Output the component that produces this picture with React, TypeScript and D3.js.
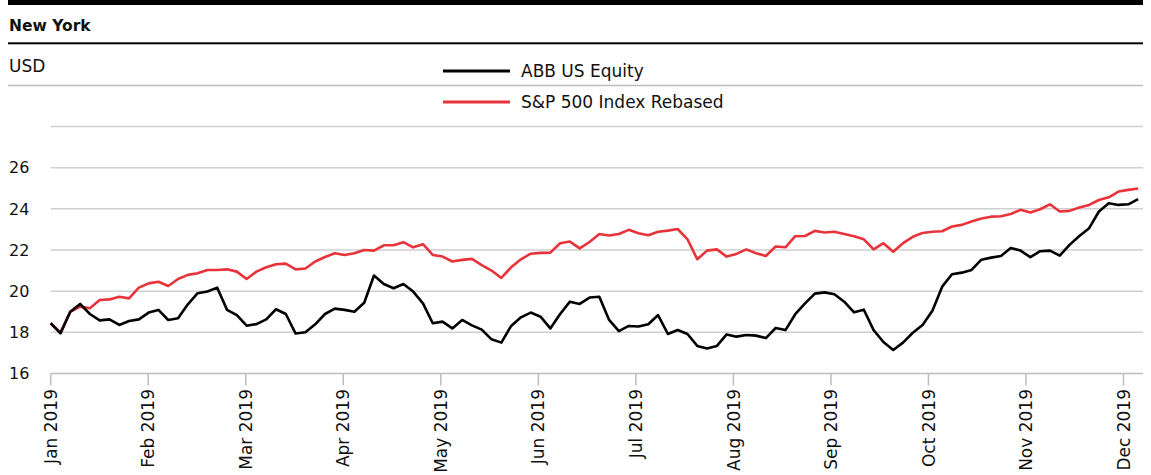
import * as d3 from 'd3';

// month tick labels (x axis)
const months = ['Jan 2019', 'Feb 2019', 'Mar 2019', 'Apr 2019', 'May 2019', 'Jun 2019',
  'Jul 2019', 'Aug 2019', 'Sep 2019', 'Oct 2019', 'Nov 2019', 'Dec 2019'];

// y axis ticks (28 has a gridline but no label)
const yTicks = [16, 18, 20, 22, 24, 26, 28];
const yLabels = [16, 18, 20, 22, 24, 26];

// ABB US Equity, sampled through the year (Jan 1 -> early Dec)
const abbValues = [
  18.44, 17.95, 19.0, 19.38, 18.89, 18.58, 18.63, 18.36, 18.55, 18.63,
  18.96, 19.09, 18.6, 18.68, 19.36, 19.9, 19.98, 20.17, 19.09, 18.84,
  18.32, 18.4, 18.63, 19.12, 18.89, 17.94, 18.0, 18.39, 18.89, 19.15,
  19.09, 19.0, 19.44, 20.76, 20.35, 20.14, 20.35, 19.98, 19.41, 18.44,
  18.52, 18.19, 18.6, 18.34, 18.13, 17.66, 17.5, 18.31, 18.73, 18.96,
  18.76, 18.19, 18.89, 19.49, 19.38, 19.69, 19.73, 18.6, 18.06, 18.31,
  18.28, 18.39, 18.84, 17.92, 18.11, 17.92, 17.34, 17.22, 17.34, 17.9,
  17.79, 17.87, 17.84, 17.72, 18.21, 18.11, 18.88, 19.41, 19.88, 19.94,
  19.85, 19.49, 18.97, 19.1, 18.11, 17.53, 17.14, 17.5, 17.98, 18.36,
  19.05, 20.22, 20.82, 20.9, 21.03, 21.53, 21.63, 21.71, 22.1, 21.97,
  21.65, 21.94, 21.97, 21.73, 22.25, 22.68, 23.06, 23.87, 24.27, 24.19,
  24.22, 24.47,
];

// S&P 500 Index Rebased, same sampling
const spxValues = [
  18.44, 18.0, 19.0, 19.25, 19.17, 19.57, 19.6, 19.73, 19.65, 20.17,
  20.38, 20.46, 20.25, 20.59, 20.79, 20.87, 21.03, 21.03, 21.06, 20.95,
  20.59, 20.95, 21.16, 21.31, 21.34, 21.06, 21.1, 21.44, 21.66, 21.84,
  21.76, 21.84, 22.0, 21.97, 22.23, 22.23, 22.38, 22.13, 22.28, 21.76,
  21.68, 21.44, 21.52, 21.57, 21.27, 21.0, 20.64, 21.16, 21.55, 21.82,
  21.86, 21.87, 22.33, 22.41, 22.08, 22.39, 22.78, 22.7, 22.78, 22.98,
  22.81, 22.72, 22.89, 22.94, 23.02, 22.52, 21.55, 21.97, 22.03, 21.68,
  21.81, 22.03, 21.84, 21.71, 22.17, 22.13, 22.67, 22.68, 22.93, 22.85,
  22.89, 22.78, 22.67, 22.52, 22.03, 22.33, 21.92, 22.33, 22.64, 22.83,
  22.89, 22.91, 23.14, 23.22, 23.38, 23.53, 23.62, 23.64, 23.75, 23.95,
  23.82, 23.98, 24.22, 23.87, 23.9, 24.06, 24.19, 24.43, 24.56, 24.84,
  24.92, 24.99,
];

const WIDTH = 1151;
const HEIGHT = 475;
const FONT = '"DejaVu Sans", sans-serif';
const RED = '#e8333b';
const GRID = '#cfcfcf';

// last sample sits ~11.15 months after Jan 1
const LAST_MONTH = 11.15;

export default function App() {
  const x = d3.scaleLinear().domain([0, 11.2]).range([50.7, 1143]);
  const y = d3.scaleLinear().domain([16, 28]).range([373.5, 126.5]);

  const step = LAST_MONTH / (abbValues.length - 1);
  const line = d3.line<number>()
    .x((_, i) => x(i * step))
    .y(d => y(d));

  return (
    <svg width={WIDTH} height={HEIGHT}
      style={{ position: 'absolute', left: 0, top: 0, display: 'block', background: '#fff' }}
      fontFamily={FONT}>
      {/* header */}
      <rect x={8} y={0} width={1135} height={5} fill="#000" />
      <text x={9} y={31} fontSize={15.5} fontWeight="bold" fill="#111">New York</text>
      <rect x={8} y={42.3} width={1135} height={2} fill="#000" />
      <text x={9} y={72} fontSize={17} fill="#111">USD</text>
      <line x1={8} x2={1143} y1={85.5} y2={85.5} stroke="#bdbdbd" strokeWidth={1.5} />

      {/* legend */}
      <line x1={443} x2={510} y1={71} y2={71} stroke="#000" strokeWidth={3} />
      <text x={521} y={77} fontSize={17} fill="#111">ABB US Equity</text>
      <line x1={443} x2={510} y1={102} y2={102} stroke={RED} strokeWidth={3} />
      <text x={521} y={108} fontSize={17} fill="#111">S&amp;P 500 Index Rebased</text>

      {/* grid */}
      {yTicks.map(t => (
        <line key={t} x1={x.range()[0]} x2={x.range()[1]} y1={y(t)} y2={y(t)}
          stroke={t === 16 ? '#bdbdbd' : GRID} strokeWidth={1.5} />
      ))}
      {yLabels.map(t => (
        <text key={t} x={9} y={y(t)} dy="0.36em" fontSize={16} fill="#111">{t}</text>
      ))}

      {/* x axis */}
      {months.map((m, i) => (
        <g key={m} transform={`translate(${x(i)},0)`}>
          <line y1={y(16)} y2={y(16) + 12} stroke="#bdbdbd" strokeWidth={1.5} />
          <text transform={`translate(0,389) rotate(-90)`} textAnchor="end" dy="0.36em"
            fontSize={17} fill="#111">{m}</text>
        </g>
      ))}

      {/* series */}
      <path d={line(spxValues) || ''} fill="none" stroke={RED} strokeWidth={2.6}
        strokeLinejoin="round" />
      <path d={line(abbValues) || ''} fill="none" stroke="#000" strokeWidth={2.6}
        strokeLinejoin="round" />
    </svg>
  );
}
